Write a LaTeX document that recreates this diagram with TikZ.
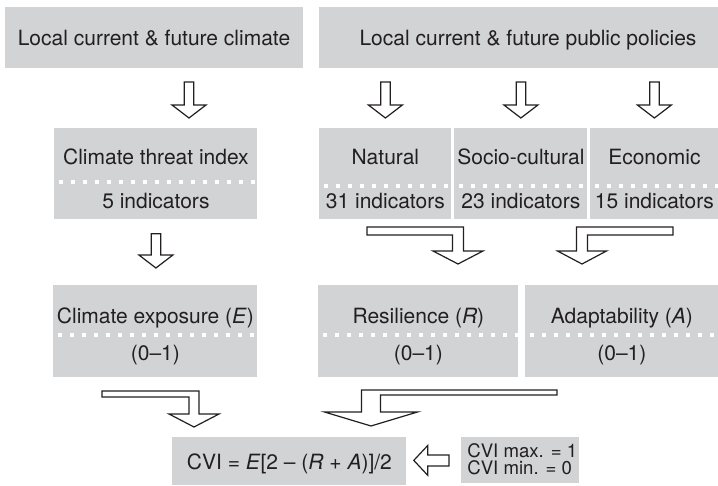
\documentclass[tikz,border=0pt]{standalone}
\usepackage{fontspec}
\setmainfont{TeX Gyre Heros}
\usetikzlibrary{calc}

\definecolor{boxgray}{RGB}{209,211,212}
\definecolor{ink}{RGB}{35,31,32}

\tikzset{
	box/.style={fill=boxgray,inner sep=0pt,anchor=north west},
	txt/.style={text=ink,inner sep=0pt,anchor=base,font=\fontsize{10.5}{12}\selectfont},
	small/.style={text=ink,inner sep=0pt,anchor=base west,font=\fontsize{9.3}{10}\selectfont},
	hollow/.style={draw=ink,fill=white,line width=0.6pt,line join=miter},
	dots/.style={white,line width=1.6pt,dash pattern=on 2pt off 4pt,dash phase=3.5pt},
}

% straight block arrow: #1 top of shaft, #2 tip
\newcommand{\hollowdown}[2]{
	\draw[hollow] ($(#1)+(-4.75,0)$) -- ($(#1 |- #2)+(-4.75,-13)$) -- ($(#1 |- #2)+(-17,-13)$)
		-- (#1 |- #2) -- ($(#1 |- #2)+(17,-13)$) -- ($(#1 |- #2)+(4.75,-13)$) -- ($(#1)+(4.75,0)$) -- cycle;
}
% bent block arrow: #1 far end of bar, #2 tip, #3 shaft half width, #4 bar thickness, #5 head half width, #6 head length
\newcommand{\hollowbent}[6]{
	\draw[hollow] (#1) -- ($(#2 |- #1)+(#3,0)$) -- ($(#2)+(#3,-#6)$) -- ($(#2)+(#5,-#6)$) -- (#2)
		-- ($(#2)+({-(#5)},-#6)$) -- ($(#2)+({-(#3)},-#6)$) -- ($(#2 |- #1)+({-(#3)},#4)$) -- ($(#1)+(0,#4)$) -- cycle;
}

\begin{document}
\begin{tikzpicture}[x=0.5pt,y=-0.5pt]
	\useasboundingbox (0,0) rectangle (718,486);
	% sources
	\node[box,minimum width=149pt,minimum height=30.5pt] (climate) at (5,7) {};
	\node[box,minimum width=199.5pt,minimum height=30.5pt] (policies) at (319,7) {};
	\node[txt] (climate-t) at (154,46) {Local current \& future climate};
	\node[txt] (policies-t) at (528,46) {Local current \& future public policies};
	% indicators
	\node[box,minimum width=101.5pt,minimum height=45.5pt] (threat) at (54,128) {};
	\node[box,minimum width=66pt,minimum height=45.5pt] (natural) at (319,128) {};
	\node[box,minimum width=66.5pt,minimum height=45.5pt] (socio) at (454,128) {};
	\node[box,minimum width=64pt,minimum height=45.5pt] (economic) at (590,128) {};
	\draw[dots] (threat.west |- 0,182) -- (threat.east |- 0,182);
	\draw[dots] (natural.west |- 0,186) -- (natural.east |- 0,186);
	\draw[dots] (socio.west |- 0,186) -- (socio.east |- 0,186);
	\draw[dots] (economic.west |- 0,186) -- (economic.east |- 0,186);
	\node[txt] (threat-a) at (threat.north |- 0,165) {Climate threat index};
	\node[txt] (threat-b) at (threat.north |- 0,209) {5 indicators};
	\node[txt] (natural-a) at (natural.north |- 0,165) {Natural};
	\node[txt] (natural-b) at (natural.north |- 0,209) {31 indicators};
	\node[txt] (socio-a) at (socio.north |- 0,165) {Socio-cultural};
	\node[txt] (socio-b) at (socio.north |- 0,209) {23 indicators};
	\node[txt] (economic-a) at (economic.north |- 0,165) {Economic};
	\node[txt] (economic-b) at (economic.north |- 0,209) {15 indicators};
	% components
	\node[box,minimum width=102pt,minimum height=46pt] (exposure) at (53,285) {};
	\node[box,minimum width=100pt,minimum height=46pt] (resil) at (318,285) {};
	\node[box,minimum width=96.5pt,minimum height=46pt] (adapt) at (525,285) {};
	\draw[dots] (exposure.west |- 0,335) -- (exposure.east |- 0,335);
	\draw[dots] (resil.west |- 0,335) -- (resil.east |- 0,335);
	\draw[dots] (adapt.west |- 0,335) -- (adapt.east |- 0,335);
	\node[txt] (exposure-a) at (exposure.north |- 0,324) {Climate exposure (\textit{E})};
	\node[txt] (exposure-b) at (exposure.north |- 0,361) {(0–1)};
	\node[txt] (resil-a) at (resil.north |- 0,324) {Resilience (\textit{R})};
	\node[txt] (resil-b) at (resil.north |- 0,361) {(0–1)};
	\node[txt] (adapt-a) at (adapt.north |- 0,324) {Adaptability (\textit{A})};
	\node[txt] (adapt-b) at (adapt.north |- 0,361) {(0–1)};
	% index
	\node[box,minimum width=117pt,minimum height=24pt] (cvi) at (172,437) {};
	\node[box,minimum width=59pt,minimum height=23pt] (limits) at (461,437) {};
	\node[txt] (cvi-t) at (cvi.north |- 0,469) {CVI = \textit{E}[2 – (\textit{R} + \textit{A})]/2};
	\node[small] (limits-a) at (467,458) {CVI max. = 1};
	\node[small] (limits-b) at (467,474) {CVI min. = 0};

	% arrows
	\coordinate (clim-s) at (189,82);
	\coordinate (clim-t) at (189,118);
	\coordinate (nat-s) at ($(natural.north)+(0,-46)$);
	\coordinate (nat-t) at ($(natural.north)+(0,-10)$);
	\coordinate (soc-s) at ($(socio.north)+(0,-46)$);
	\coordinate (soc-t) at ($(socio.north)+(0,-10)$);
	\coordinate (eco-s) at ($(economic.north)+(0,-46)$);
	\coordinate (eco-t) at ($(economic.north)+(0,-10)$);
	\coordinate (thr-s) at ($(threat.south)+(0,14)$);
	\coordinate (thr-t) at ($(exposure.north)+(0,-17)$);
	\hollowdown{clim-s}{clim-t}
	\hollowdown{nat-s}{nat-t}
	\hollowdown{soc-s}{soc-t}
	\hollowdown{eco-s}{eco-t}
	\hollowdown{thr-s}{thr-t}
	\coordinate (res-s) at (367,227);
	\coordinate (res-t) at (458,264);
	\coordinate (ada-s) at (673,227);
	\coordinate (ada-t) at (582,264);
	\coordinate (exp-s) at (102,391);
	\coordinate (exp-t) at (194,427);
	\coordinate (ra-s) at (557,390);
	\coordinate (ra-t) at (371,426);
	\hollowbent{res-s}{res-t}{5.5}{8}{25}{13}
	\hollowbent{ada-s}{ada-t}{-5.5}{8}{-24.5}{13}
	\hollowbent{exp-s}{exp-t}{5}{6}{25}{13}
	\hollowbent{ra-s}{ra-t}{-9.5}{5}{-46.5}{14}
	\coordinate (lim-s) at ($(limits.west)+(-12,0)$);
	\coordinate (lim-t) at ($(cvi.east |- limits.west)+(7,0)$);
	\draw[hollow] ($(lim-s)+(0,-5.5)$) -- ($(lim-t)+(14,-5.5)$) -- ($(lim-t)+(14,-15)$) -- (lim-t)
		-- ($(lim-t)+(14,15)$) -- ($(lim-t)+(14,5.5)$) -- ($(lim-s)+(0,5.5)$) -- cycle;
\end{tikzpicture}
\end{document}
